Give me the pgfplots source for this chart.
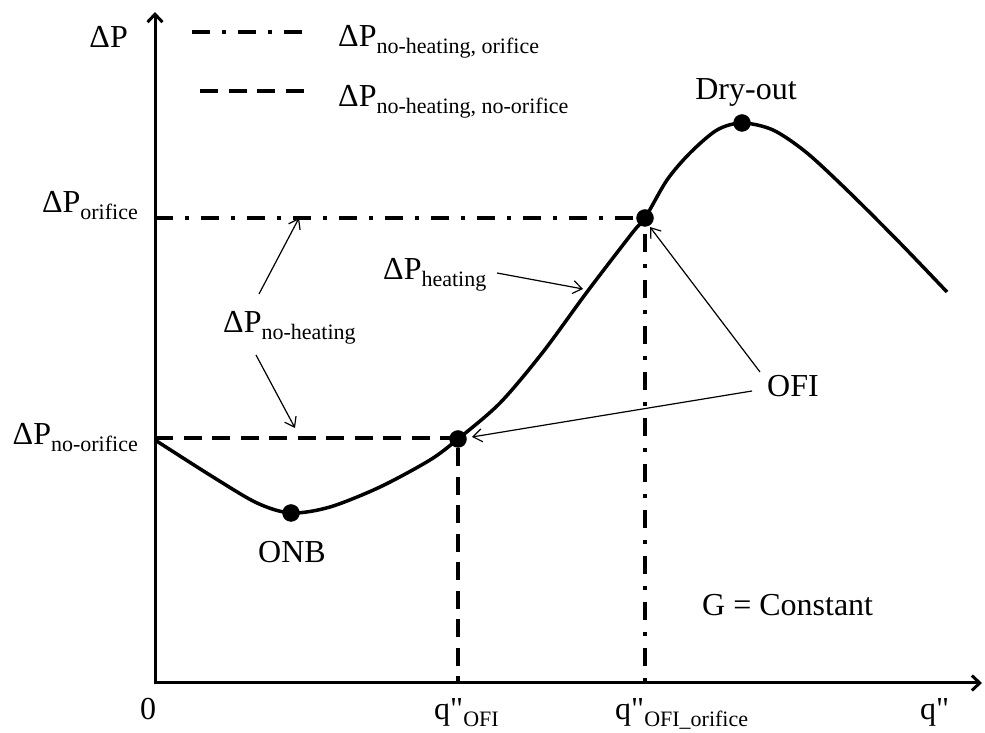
\documentclass[border=0pt]{standalone}
\usepackage{pgfplots}
\pgfplotsset{compat=1.18}
\usetikzlibrary{arrows.meta}
\usepackage{fontspec}
\setmainfont{Liberation Serif}
\newfontfamily\rawfont{Liberation Serif}[Ligatures=TeXOff]
\newcommand{\sub}[1]{\raisebox{-7pt}{\fontsize{22}{24}\selectfont #1}}
\newcommand{\mainf}{\fontsize{32}{36}\selectfont}
\newcommand{\qq}{{\rawfont q"}}
\tikzset{
  dsh/.style={line width=4.5pt, dash pattern=on 18pt off 10.5pt},
  dshdot/.style={line width=4.5pt, dash pattern=on 18pt off 12pt on 4pt off 12pt},
  thinarrow/.style={line width=1.2pt, -{Straight Barb[length=9pt,width=13pt,line width=1.2pt]}},
}
\begin{document}
\begin{tikzpicture}
\begin{axis}[
  scale only axis, width=985pt, height=733pt,
  xmin=-155, xmax=830, ymin=-50, ymax=683,
  hide axis, clip=false,
]
% reference lines
\addplot[dsh] coordinates {(0,245) (303,245) (303,0)};
\addplot[dshdot] coordinates {(0,465) (490,465) (490,0)};
% legend samples
\addplot[dshdot] coordinates {(37,651) (148,651)};
\addplot[dsh] coordinates {(45,592) (152,592)};
% Delta P curve
\addplot[line width=3.5pt, smooth, tension=0.5] coordinates {
 (0,243) (58,206) (102,180) (136,170) (175,176) (225,196) (275,223) (303,244)
 (345,280) (388,331) (432,391) (478,451) (490,465) (512,503) (535,530) (562,553)
 (587,560) (618,553) (652,530) (695,490) (745,440) (792,391)};
% marked points
\addplot[only marks, mark=*, mark size=8.5pt, black] coordinates {(136,170) (303,244) (490,465) (587,560)};

% axes
\draw[line width=3pt, -{Straight Barb[length=8pt,width=15pt,line width=3pt]}] (axis cs:0,-1.5) -- (axis cs:0,671);
\draw[line width=3pt, -{Straight Barb[length=8pt,width=15pt,line width=3pt]}] (axis cs:-1.5,0) -- (axis cs:827,0);

% annotation arrows
\draw[thinarrow] (axis cs:342,410) -- (axis cs:428,394);
\draw[thinarrow] (axis cs:104,389) -- (axis cs:144,465);
\draw[thinarrow] (axis cs:101,328) -- (axis cs:140,255);
\draw[thinarrow] (axis cs:597,292) -- (axis cs:317,246);
\draw[thinarrow] (axis cs:605,311) -- (axis cs:495,456);

% texts
\node[anchor=base east, font=\mainf, inner sep=0pt] at (axis cs:-27,635) {ΔP};
\node[anchor=base west, font=\mainf, inner sep=0pt] at (axis cs:183,636) {ΔP\sub{no-heating, orifice}};
\node[anchor=base west, font=\mainf, inner sep=0pt] at (axis cs:183,576) {ΔP\sub{no-heating, no-orifice}};
\node[anchor=base east, font=\mainf, inner sep=0pt] at (axis cs:-17,470) {ΔP\sub{orifice}};
\node[anchor=base east, font=\mainf, inner sep=0pt] at (axis cs:-17,238) {ΔP\sub{no-orifice}};
\node[anchor=base west, font=\mainf, inner sep=0pt] at (axis cs:68,350) {ΔP\sub{no-heating}};
\node[anchor=base west, font=\mainf, inner sep=0pt] at (axis cs:228,403) {ΔP\sub{heating}};
\node[anchor=base west, font=\mainf, inner sep=0pt] at (axis cs:612,286) {OFI};
\node[anchor=base, font=\mainf, inner sep=0pt] at (axis cs:591,583) {Dry-out};
\node[anchor=base, font=\mainf, inner sep=0pt] at (axis cs:137,120) {ONB};
\node[anchor=base west, font=\mainf, inner sep=0pt] at (axis cs:547,67) {G = Constant};
\node[anchor=base, font=\mainf, inner sep=0pt] at (axis cs:-7,-37) {0};
\node[anchor=base west, font=\mainf, inner sep=0pt] at (axis cs:279,-37) {\qq\sub{OFI}};
\node[anchor=base west, font=\mainf, inner sep=0pt] at (axis cs:460,-37) {\qq\sub{OFI\_orifice}};
\node[anchor=base west, font=\mainf, inner sep=0pt] at (axis cs:765,-37) {\qq};
\end{axis}
\pgfresetboundingbox
\path[use as bounding box] (current axis.south west) rectangle (current axis.north east);
\end{tikzpicture}
\end{document}
